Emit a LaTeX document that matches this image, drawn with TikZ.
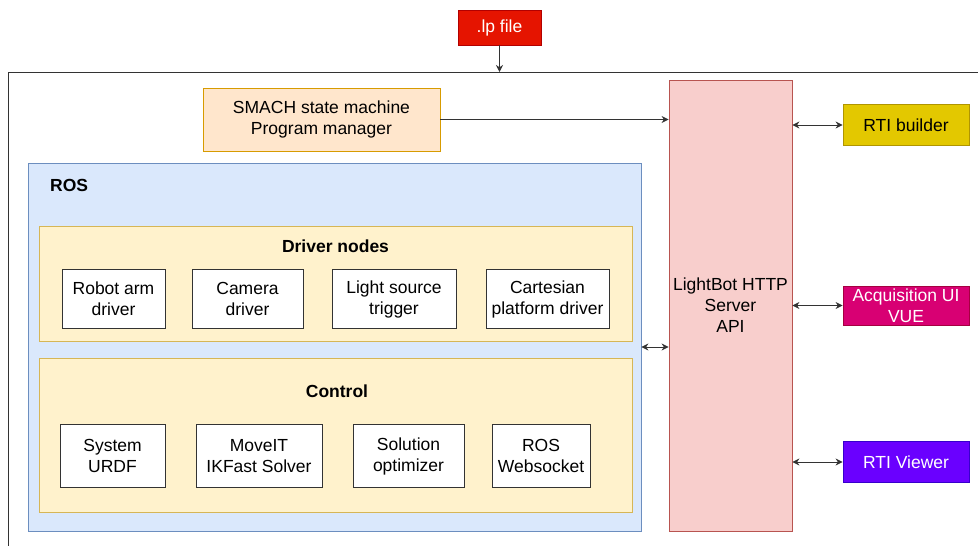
\documentclass[tikz,border=0pt]{standalone}
\usepackage{fontspec}
\setmainfont{Liberation Sans}
\usepackage{xcolor}
\usetikzlibrary{arrows.meta}

\definecolor{lpfill}{HTML}{E51400}
\definecolor{lpline}{HTML}{B20000}
\definecolor{smachfill}{HTML}{FFE6CC}
\definecolor{smachline}{HTML}{D79B00}
\definecolor{rosfill}{HTML}{DAE8FC}
\definecolor{rosline}{HTML}{6C8EBF}
\definecolor{grpfill}{HTML}{FFF2CC}
\definecolor{grpline}{HTML}{D6B656}
\definecolor{apifill}{HTML}{F8CECC}
\definecolor{apiline}{HTML}{B85450}
\definecolor{buildfill}{HTML}{E3C800}
\definecolor{buildline}{HTML}{B09500}
\definecolor{acqfill}{HTML}{D80073}
\definecolor{acqline}{HTML}{A50040}
\definecolor{viewfill}{HTML}{6A00FF}
\definecolor{viewline}{HTML}{3700CC}

\tikzset{
  txt/.style={font=\fontsize{17.5}{21}\selectfont, align=center, inner sep=0pt},
  blk/.style={txt, draw, line width=0.8pt, minimum width=#1},
  rosnode/.style={blk=#1, fill=white, draw=black!80, minimum height=59pt},
  ctrlnode/.style={blk=#1, fill=white, draw=black!80, minimum height=63pt},
  client/.style={blk=126pt, minimum height=41pt},
  link/.style={line width=0.9pt, draw=black!80, {Stealth[length=7pt,width=7pt]}-{Stealth[length=7pt,width=7pt]}},
  feed/.style={line width=0.9pt, draw=black!80, -{Stealth[length=7pt,width=7pt]}}
}

\begin{document}
\begin{tikzpicture}[x=1pt, y=-1pt]

    \useasboundingbox (0,0) rectangle (978,546);

    % outer frame (runs off the page)
    \coordinate (frametop) at (8,72);
    \draw[line width=0.8pt, black!80] (8,546) -- (frametop) -- (978,72);

    % input file
    \node[blk=83pt, minimum height=35pt, fill=lpfill, draw=lpline, text=white] (lpfile) at (499.5,27.5) {.lp file};
    \draw[feed] (lpfile.south) -- (lpfile.south |- frametop);

    % state machine
    \node[blk=237pt, minimum height=63pt, fill=smachfill, draw=smachline] (smach) at (321.5,119.5) {SMACH state machine\\Program manager};

    % ROS container
    \node[blk=613pt, minimum height=368pt, fill=rosfill, draw=rosline] (ros) at (334.5,347) {};
    \node[txt, font=\fontsize{17.5}{21}\selectfont\bfseries, anchor=west] (roslabel) at (50,185) {ROS};

    % Driver nodes
    \node[blk=593pt, minimum height=115pt, fill=grpfill, draw=grpline] (drivers) at (335.5,283.5) {};
    \node[txt, font=\fontsize{17.5}{21}\selectfont\bfseries] (driverslabel) at (335.5,246) {Driver nodes};
    \node[rosnode=103pt] (robotarm) at (113.5,299) {Robot arm\\driver};
    \node[rosnode=111pt] (camera) at (247.5,299) {Camera\\driver};
    \node[rosnode=124pt] (light) at (394,299) {Light source\\trigger};
    \node[rosnode=123pt] (cartesian) at (547.5,299) {Cartesian\\platform driver};

    % Control
    \node[blk=593pt, minimum height=154pt, fill=grpfill, draw=grpline] (control) at (335.5,435) {};
    \node[txt, font=\fontsize{17.5}{21}\selectfont\bfseries] (controllabel) at (337,391) {Control};
    \node[ctrlnode=105pt] (urdf) at (112.5,456) {System\\URDF};
    \node[ctrlnode=126pt] (moveit) at (259,456) {MoveIT\\IKFast Solver};
    \node[ctrlnode=111pt] (optimizer) at (408.5,456) {Solution\\optimizer};
    \node[ctrlnode=98pt] (websocket) at (541,456) {ROS\\Websocket};

    % HTTP server
    \node[blk=123pt, minimum height=451pt, fill=apifill, draw=apiline] (api) at (730.5,305.5) {LightBot HTTP\\Server\\API};

    % clients
    \node[client, fill=buildfill, draw=buildline] (builder) at (906,125) {RTI builder};
    \node[client, minimum height=39pt, fill=acqfill, draw=acqline, text=white] (acqui) at (906,305.5) {Acquisition UI\\VUE};
    \node[client, fill=viewfill, draw=viewline, text=white] (viewer) at (906,462) {RTI Viewer};

    % connections
    \draw[feed] (smach.east) -- (smach.east -| api.west);
    \draw[link] (ros.east) -- (ros.east -| api.west);
    \draw[link] (builder.west -| api.east) -- (builder.west);
    \draw[link] (acqui.west -| api.east) -- (acqui.west);
    \draw[link] (viewer.west -| api.east) -- (viewer.west);

\end{tikzpicture}
\end{document}
